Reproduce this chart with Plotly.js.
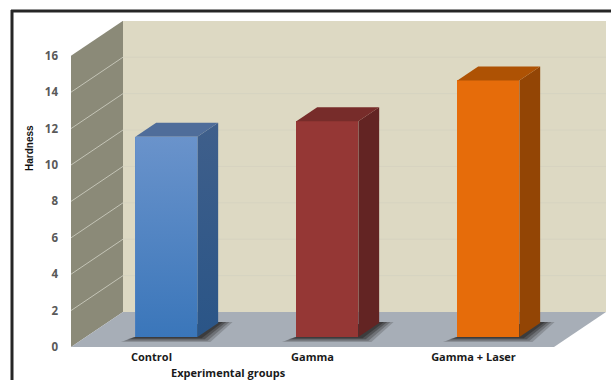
<!DOCTYPE html>
<html><head><meta charset="utf-8">
<script src="https://cdn.plot.ly/plotly-3.0.1.min.js"></script>
<style>html,body{margin:0;padding:0;background:#fff}#c{width:611px;height:380px}</style>
</head><body><div id="c"></div>
<script>
const categories = ["Control", "Gamma", "Gamma + Laser"];
const hardness = [11.0, 11.85, 14.1];
const yTicks = [0, 2, 4, 6, 8, 10, 12, 14, 16];
const frontColors = ["#5B87C2", "#953735", "#E66C0A"];
const sideColors = ["#35598A", "#632423", "#934505"];
const topColors = ["#4F6D9A", "#772C2A", "#AE5204"];

const W = 611, H = 380, L = 71, T = 21, B = 33;
const pxX = 161, pxY = 18.2;
const dx = 52 / pxX, dy = 35 / pxY;     // full depth of the floor, in axis units
const xMin = -0.5, xMax = 2.5, yMax = 16;
const barW = 62 / pxX, d0 = 10 / 35, d1 = d0 + 0.4;

const poly = pts => "M" + pts.map(p => p[0] + "," + p[1]).join("L") + "Z";
const shapes = [];
const addFill = (pts, color, opacity) => shapes.push({type: "path", xref: "x", yref: "y", layer: "below",
  path: poly(pts), fillcolor: color, opacity: opacity === undefined ? 1 : opacity, line: {width: 0}});
const addLine = (a, b, color) => shapes.push({type: "line", xref: "x", yref: "y", layer: "below",
  x0: a[0], y0: a[1], x1: b[0], y1: b[1], line: {color: color, width: 1}});

// walls and floor
addFill([[xMin + dx, dy], [xMax + dx, dy], [xMax + dx, yMax + dy], [xMin + dx, yMax + dy]], "#DDD9C3");
addFill([[xMin, 0], [xMin + dx, dy], [xMin + dx, yMax + dy], [xMin, yMax]], "#8B8A78");
addFill([[xMin, 0], [xMax, 0], [xMax + dx, dy], [xMin + dx, dy]], "#A7AEB7");
yTicks.slice(1, -1).forEach(v => {
  addLine([xMin, v], [xMin + dx, v + dy], "#C4C4B6");
  addLine([xMin + dx, v + dy], [xMax + dx, v + dy], "#D6D3C0");
});

// floor shadows
categories.forEach((c, i) => {
  const l = i - barW / 2 + dx * d0, r = i + barW / 2 + dx * d0;
  [[0.09, 0.27, 0.22], [0.07, 0.2, 0.3], [0.05, 0.13, 0.42], [0.03, 0.07, 0.55]].forEach(s => {
    addFill([[l - s[0], dy * d0 - s[1]], [r + s[0] * 0.9, dy * d0 - s[1]],
             [r + dx * 0.4 + s[0], dy * d1 + 0.05], [r + dx * 0.2, dy * d1 + 0.05], [l, dy * d0]],
            "#2A2A2A", s[2]);
  });
});

// frame
const fx = p => (p - L) / (W - L), fy = p => (H - B - p) / (H - T - B);
shapes.push({type: "line", xref: "paper", yref: "paper", layer: "above", x0: fx(12), x1: fx(12), y0: fy(10), y1: fy(380), line: {color: "#262626", width: 3}});
shapes.push({type: "line", xref: "paper", yref: "paper", layer: "above", x0: fx(11), x1: fx(611), y0: fy(11), y1: fy(11), line: {color: "#262626", width: 3}});

const traces = [];
const xFront = categories.map((c, i) => i + dx * d0);
traces.push({type: "bar", x: xFront, y: hardness, base: categories.map(() => dy * d0), width: barW,
  marker: {color: frontColors, line: {width: 0}}, text: categories, textposition: "none", hoverinfo: "text+y"});

const face = (pts, extra) => Object.assign({type: "scatter", mode: "lines", x: pts.map(p => p[0]), y: pts.map(p => p[1]),
  fill: "toself", line: {width: 0}, hoverinfo: "skip", showlegend: false}, extra);

hardness.forEach((v, i) => {
  const l = i - barW / 2 + dx * d0, r = l + barW, y0 = dy * d0, y1 = y0 + v;
  const ox = dx * (d1 - d0), oy = dy * (d1 - d0);
  const side = i === 0 ? {fillgradient: {type: "vertical", colorscale: [[0, "#2A5587"], [1, "#3F5F8B"]]}} : {fillcolor: sideColors[i]};
  traces.push(face([[r, y0], [r + ox, y0 + oy], [r + ox, y1 + oy], [r, y1], [r, y0]], side));
  traces.push(face([[l, y1], [r, y1], [r + ox, y1 + oy], [l + ox, y1 + oy], [l, y1]], {fillcolor: topColors[i]}));
  if (i === 0) {
    traces.push(face([[l, y0], [r, y0], [r, y1], [l, y1], [l, y0]], {
      fillgradient: {type: "vertical", colorscale: [[0, "#3A76BA"], [1, "#6A93CB"]]}}));
  }
});

const numFont = {family: "Open Sans, sans-serif", size: 11.5, color: "#595959", weight: 700};
const catFont = {family: "Open Sans, sans-serif", size: 11, color: "#1A1A1A", weight: 700};
const layout = {
  width: W, height: H, paper_bgcolor: "#fff", plot_bgcolor: "rgba(0,0,0,0)", showlegend: false,
  margin: {l: L, r: 0, t: T, b: B, pad: 0},
  bargap: 0, shapes: shapes,
  xaxis: {range: [xMin, xMin + (W - L) / pxX], tickmode: "array", tickvals: [0, 1, 2], ticktext: categories,
    showgrid: false, zeroline: false, showline: false, ticks: "", tickfont: catFont, ticklabelstandoff: 2},
  yaxis: {range: [0, (H - T - B) / pxY], tickmode: "array", tickvals: yTicks, ticktext: yTicks.map(String),
    showgrid: false, zeroline: false, showline: false, ticks: "", tickfont: numFont, ticklabelstandoff: 12},
  annotations: [
    {xref: "paper", yref: "paper", x: fx(228), y: fy(372.5), text: "Experimental groups", showarrow: false,
     xanchor: "center", yanchor: "middle", font: catFont},
    {xref: "paper", yref: "paper", x: fx(29), y: fy(148), text: "Hardness", textangle: -90, showarrow: false,
     xanchor: "center", yanchor: "middle", font: {family: "Liberation Sans, sans-serif", size: 10, color: "#111", weight: 700}}
  ]
};
Plotly.newPlot("c", traces, layout, {displayModeBar: false, staticPlot: true});
</script></body></html>
